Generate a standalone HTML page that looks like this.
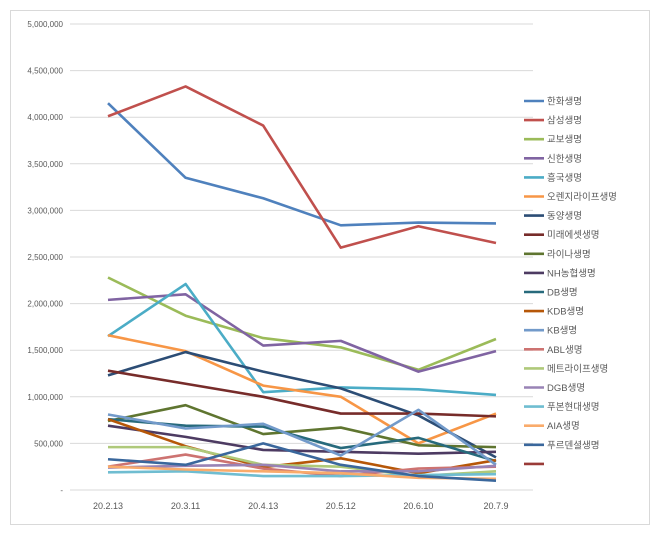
<!DOCTYPE html>
<html><head><meta charset="utf-8"><style>
body{margin:0;background:#fff;font-family:"Liberation Sans","Noto Sans CJK KR",sans-serif}
#wrap{position:relative;width:660px;height:535px}
</style></head><body>
<div id="wrap">
<svg id="chart" width="660" height="535">
<rect x="10.5" y="10.5" width="639" height="514" fill="#fff" stroke="#d9d9d9"/>
</svg>
</div>
<script>
const categories=["20.2.13","20.3.11","20.4.13","20.5.12","20.6.10","20.7.9"];
const seriesNames=["한화생명","삼성생명","교보생명","신한생명","흥국생명","오렌지라이프생명","동양생명","미래에셋생명","라이나생명","NH농협생명","DB생명","KDB생명","KB생명","ABL생명","메트라이프생명","DGB생명","푸본현대생명","AIA생명","푸르덴셜생명",""];
const seriesColors=["#4f81bd","#c0504d","#9bbb59","#8064a2","#4bacc6","#f79646","#2c4d75","#772c2a","#5f7530","#4d3b62","#276a7c","#b65708","#729aca","#cd7371","#afc97a","#9983b5","#6fbdd1","#f9ab6b","#3a679c","#9a3b38"];
const s0=[4150,3350,3130,2840,2870,2860];
const s1=[4010,4330,3910,2600,2830,2650];
const s2=[2280,1870,1630,1530,1290,1620];
const s3=[2040,2100,1550,1600,1270,1490];
const s4=[1650,2210,1050,1100,1080,1020];
const s5=[1660,1490,1120,1000,500,820];
const s6=[1230,1480,1270,1090,800,350];
const s7=[1280,1140,1000,820,820,790];
const s8=[740,910,600,670,480,460];
const s9=[690,570,430,410,390,410];
const s10=[760,690,680,450,560,310];
const s11=[760,470,245,340,180,320];
const s12=[810,660,710,370,860,270];
const s13=[250,380,230,150,230,250];
const s14=[460,460,270,250,150,200];
const s15=[240,260,270,200,200,260];
const s16=[190,200,150,150,160,170];
const s17=[250,220,200,180,130,120];
const s18=[330,270,500,270,150,100];
const s19=[];
const seriesValues=[s0,s1,s2,s3,s4,s5,s6,s7,s8,s9,s10,s11,s12,s13,s14,s15,s16,s17,s18,s19];
const yTicks=[0,500,1000,1500,2000,2500,3000,3500,4000,4500,5000];
const yTickLabels=["-","500,000","1,000,000","1,500,000","2,000,000","2,500,000","3,000,000","3,500,000","4,000,000","4,500,000","5,000,000"];

const svg=document.getElementById('chart');
const NS="http://www.w3.org/2000/svg";
const x0=70,x1=533,y0=490,yTop=24;
const xs=i=>108+i*77.6;
const ys=v=>y0-(v/5000)*(y0-yTop);
function mk(t,a){const e=document.createElementNS(NS,t);for(const k in a)e.setAttribute(k,a[k]);svg.appendChild(e);return e;}
yTicks.forEach((v,i)=>{
  const g=mk('line',{x1:x0,x2:x1,y1:ys(v),y2:ys(v),stroke:'#d9d9d9','stroke-width':1});
  
  
  const t=mk('text',{x:63,y:ys(v)+3,'text-anchor':'end','font-size':'8',fill:'#595959'});
  t.textContent=yTickLabels[i];
  
  
});
categories.forEach((c,i)=>{
  const t=mk('text',{x:xs(i),y:509,'text-anchor':'middle','font-size':'9',fill:'#595959'});
  t.textContent=c;
  
  
});
seriesValues.forEach((vals,si)=>{
  if(!vals.length)return;
  const p=mk('polyline',{points:vals.map((v,i)=>xs(i)+','+ys(v)).join(' '),fill:'none',stroke:seriesColors[si],'stroke-width':2.6,'stroke-linejoin':'round'});
  
  
});
seriesNames.forEach((n,i)=>{
  const y=101+i*19.1;
  const l=mk('line',{x1:524,x2:544,y1:y,y2:y,stroke:seriesColors[i],'stroke-width':2.6});
  
  
  const t=mk('text',{x:547,y:y+3.5,'font-size':'9.5',fill:'#595959'});
  t.textContent=n;
  
  
});
</script>
</body></html>
